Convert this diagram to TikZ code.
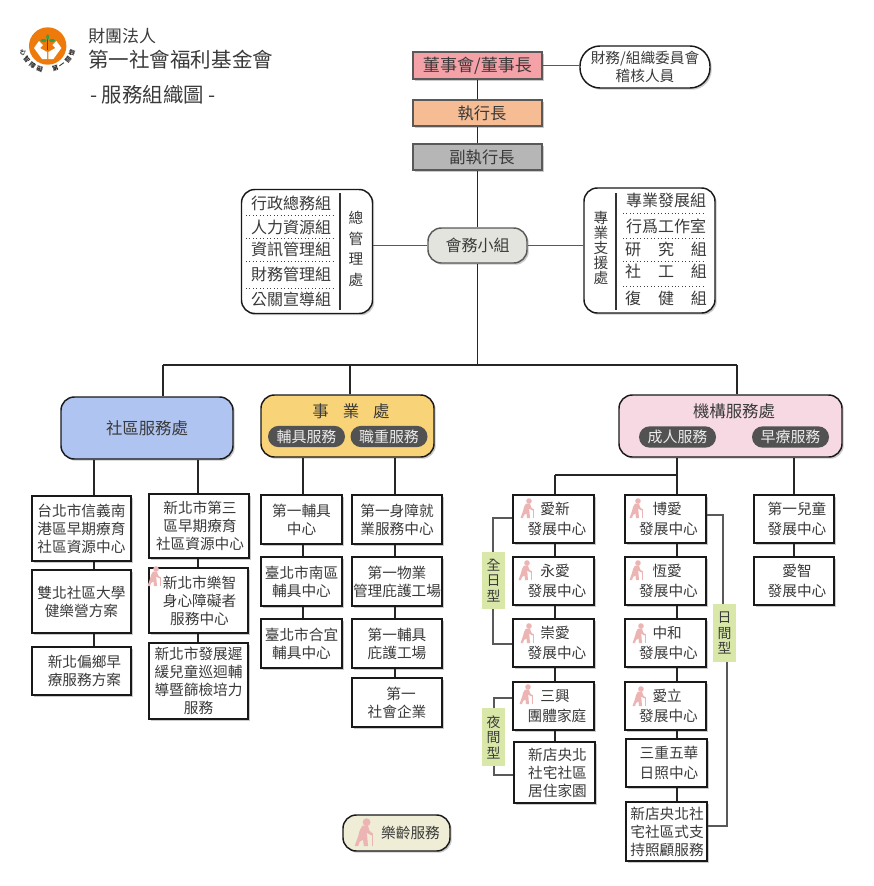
\documentclass[tikz,border=0pt]{standalone}
\usepackage{fontspec}
\setmainfont{Noto Sans CJK TC}
\usepackage{tikz}
\usetikzlibrary{shadows}

\definecolor{inkgray}{HTML}{3A3A3A}
\definecolor{elderpink}{HTML}{EDB4B4}
\definecolor{logoorange}{HTML}{EE7A0C}
\definecolor{logogreen}{HTML}{2FA14A}
\definecolor{tagcolor}{HTML}{D9E8A9}
\definecolor{boardred}{HTML}{F5A1A8}
\definecolor{ceoorange}{HTML}{F6BC93}
\definecolor{deputygray}{HTML}{B7B6B6}
\definecolor{panelgray}{HTML}{E4E4DF}
\definecolor{commblue}{HTML}{AFC4F0}
\definecolor{causeyellow}{HTML}{F9D377}
\definecolor{agencypink}{HTML}{F6D9E2}
\definecolor{legendcream}{HTML}{EFEDD6}

\tikzset{
	softshadow/.style={drop shadow={shadow xshift=1.3pt,shadow yshift=-1.3pt,fill=black!35,opacity=.6}},
	topbox/.style={draw=black!65,line width=1.1pt,softshadow,inner sep=0pt,text=inkgray,font=\fontsize{12.2}{14}\selectfont},
	roundbox/.style={draw=black!90,line width=1.1pt,rounded corners=10pt,fill=white,softshadow,inner sep=0pt,text=inkgray},
	headbox/.style={roundbox,align=center,font=\fontsize{12.3}{14}\selectfont},
	pillbox/.style={fill=black!68,rounded corners=8pt,inner sep=0pt,text=white!92!black,font=\fontsize{11.2}{13}\selectfont},
	unitbox/.style={draw=black!90,line width=1.1pt,fill=white,softshadow,inner sep=0pt},
	unittext/.style={align=center,inner sep=0pt,text=inkgray,font=\fontsize{11}{13.5}\selectfont},
	rowtext/.style={inner sep=0pt,text=inkgray,font=\fontsize{12}{14}\selectfont},
	tagbox/.style={fill=tagcolor,inner sep=0pt,align=center,text=inkgray,font=\fontsize{10.4}{11.6}\selectfont},
	conn/.style={line width=1pt,draw=black!85},
	thinconn/.style={line width=.9pt,draw=black!65},
	dotrule/.style={line width=.6pt,dotted,draw=black!75},
	elder/.pic={
		\fill[elderpink] (9,3) circle (2.8);
		\fill[elderpink] (6,5.5) -- (10,5.5) -- (11,9) -- (13,11) -- (12.5,12.5) -- (9,10.5) -- (9.5,14) -- (10,20) -- (7,20) -- (6.5,15.5) -- (4,17) -- (3,20) -- (0.5,20) -- (3,13) -- (4,9) -- cycle;
		\draw[elderpink,line width=.4pt] (13.3,10.5) -- (13.3,20);
	}
}

\begin{document}
\begin{tikzpicture}[x=0.75pt,y=-0.75pt]
	\useasboundingbox (0,0) rectangle (874,886);

	\fill[logoorange] (47.7,46) circle (18.7);
	\fill[white] (39,41) -- (34,48) -- (42,59) -- (47,59) -- (47,52) -- (40,48) -- (43,45) -- cycle;
	\fill[white] (56.4,41) -- (61.4,48) -- (53.4,59) -- (48.4,59) -- (48.4,52) -- (55.4,48) -- (52.4,45) -- cycle;
	\draw[black!70,line width=.6pt] (47.7,37) -- (47.7,50);
	\fill[logogreen] (43.5,40.5) ellipse (3 and 1.6);
	\fill[logogreen] (52,40.5) ellipse (3 and 1.6);
	\fill[logogreen] (47.7,37) ellipse (1.5 and 2.6);
	\foreach \slot/\glyph in {0/心,1/智,2/障,3/礙,5/第,6/一,7/關,8/懷}
	{
		\pgfmathsetmacro{\ang}{200+\slot*17.5}
		\node[inner sep=0pt,text=black!85,rotate=\ang-270,font=\bfseries\fontsize{4.6}{5}\selectfont] (logo\slot) at ({47.5+26*cos(\ang)},{44-26*sin(\ang)}) {\glyph};
	}

	\node[anchor=west,inner sep=0pt,text=inkgray,font=\fontsize{12.7}{14}\selectfont] (orgkind) at (88,36) {財團法人};
	\node[anchor=west,inner sep=0pt,text=inkgray,font=\fontsize{15.4}{17}\selectfont] (orgname) at (88,60) {第一社會福利基金會};
	\node[anchor=west,inner sep=0pt,text=inkgray,font=\fontsize{15.3}{17}\selectfont] (chartname) at (90,95) {- 服務組織圖 -};

	\node[topbox,fill=boardred,minimum width=96.75pt,minimum height=20.25pt,font=\fontsize{12.8}{14}\selectfont] (board) at (477.5,65.5) {董事會/董事長};
	\node[topbox,fill=ceoorange,minimum width=96.75pt,minimum height=19.5pt] (ceo) at (477.5,113) {\hspace*{6.75pt}執行長};
	\node[topbox,fill=deputygray,minimum width=96.75pt,minimum height=19.5pt] (deputy) at (477.5,157) {\hspace*{6.75pt}副執行長};
	\node[roundbox,rounded corners=15pt,align=center,minimum width=97.5pt,minimum height=31.5pt,font=\fontsize{11}{13.5}\selectfont] (audit) at (645,67) {財務/組織委員會\\稽核人員};
	\node[roundbox,fill=panelgray,draw=black!65,minimum width=74.25pt,minimum height=26.25pt,font=\fontsize{12}{14}\selectfont] (panel) at (477.5,245.5) {會務小組};
	\node[roundbox,minimum width=98.25pt,minimum height=93pt] (admin) at (307,251.5) {};
	\node[roundbox,minimum width=98.25pt,minimum height=93.75pt] (support) at (649.5,250.5) {};

	\draw[conn] (board) -- (ceo);
	\draw[conn] (ceo) -- (deputy);
	\draw[conn] (deputy) -- (panel);
	\draw[thinconn] (board) -- (audit.west |- board);
	\draw[thinconn] (admin.east |- panel) -- (panel);
	\draw[thinconn] (panel) -- (support.west |- panel);

	\draw[line width=.9pt,draw=black!80] (340,193) -- (340,310);
	\draw[line width=.9pt,draw=black!80] (616,193) -- (616,310);
	\foreach \yy in {215,238.5,261.5,288}
		\draw[dotrule] (246,\yy) -- (334,\yy);
	\foreach \yy in {213,238,261,286}
		\draw[dotrule] (623,\yy) -- (706,\yy);
	\foreach \nm/\yy/\txt in {
		adminA/203/行政總務組,
		adminB/227/人力資源組,
		adminC/249/資訊管理組,
		adminD/274/財務管理組,
		adminE/299/公關宣導組}
	{
		\node[rowtext] (\nm) at (291,\yy) {\txt};
	}
	\foreach \nm/\yy/\txt in {
		supportA/200/專業發展組,
		supportB/226/行爲工作室,
		supportC/249/研\hspace{1.05em}究\hspace{1.05em}組,
		supportD/271/社\hspace{1.05em}工\hspace{1.05em}組,
		supportE/298/復\hspace{1.05em}健\hspace{1.05em}組}
	{
		\node[rowtext] (\nm) at (666,\yy) {\txt};
	}
	\node[unittext,font=\fontsize{11}{15.4}\selectfont] (adminname) at (356,249) {總\\管\\理\\處};
	\node[unittext,font=\fontsize{11}{11.4}\selectfont] (supportname) at (601,248) {專\\業\\支\\援\\處};

	\coordinate (busL) at (163,365);
	\coordinate (busC) at (350,365);
	\coordinate (busM) at (477.5,365);
	\coordinate (busR) at (737,365);
	\coordinate (stemP) at (198,0);
	\coordinate (stemQ) at (94,0);
	\coordinate (stemT) at (303,0);
	\coordinate (stemU) at (395,0);
	\coordinate (stemV) at (555,0);
	\coordinate (stemW) at (677,0);
	\coordinate (stemX) at (794,0);
	\coordinate (busA) at (555,475);

	\node[headbox,fill=commblue,minimum width=129pt,minimum height=46.5pt] (community) at (147,428) {社區服務處};
	\node[headbox,fill=causeyellow,minimum width=129.75pt,minimum height=46.5pt] (cause) at (347.5,426) {};
	\node[headbox,fill=agencypink,minimum width=167.25pt,minimum height=46.5pt] (agency) at (730.5,426) {};
	\node[rowtext,font=\fontsize{12.3}{14}\selectfont] (causename) at (351,411) {事\hspace{.85em}業\hspace{.85em}處};
	\node[rowtext,font=\fontsize{12.3}{14}\selectfont] (agencyname) at (734,411) {機構服務處};
	\foreach \nm/\xx/\yy/\txt in {
		toolpill/306.5/436.5/輔具服務,
		jobpill/389/436.5/職重服務,
		adultpill/677.5/437/成人服務,
		earlypill/790.5/437/早療服務}
	{
		\node[pillbox,minimum width=57.75pt,minimum height=16pt] (\nm) at (\xx,\yy) {\txt};
	}

	\draw[conn] (busL) -- (busR);
	\draw[conn] (panel) -- (busM);
	\draw[conn] (busL |- community.north) -- (busL);
	\draw[conn] (busC |- cause.north) -- (busC);
	\draw[conn] (busR |- agency.north) -- (busR);

	\foreach \nm/\xa/\ya/\xb/\yb/\dx/\txt in {
		sinyi/32/496/131/561/0/台北市信義南\\港區早期療育\\社區資源中心,
		campus/32/570/131/633/0/雙北社區大學\\健樂營方案,
		rural/32/647/131/695/3/新北偏鄉早\\療服務方案,
		third/149/494/249/558/1/新北市第三\\區早期療育\\社區資源中心,
		lezhi/149/568/248/633/1/新北市樂智\\身心障礙者\\服務中心,
		itinerant/149/643/248/719/0/新北市發展遲\\緩兒童巡迴輔\\導暨篩檢培力\\服務,
		aidone/261/495/342/544/0/第一輔具\\中心,
		aidsouth/261/557/342/606/0/臺北市南區\\輔具中心,
		aidheyi/261/619/342/668/0/臺北市合宜\\輔具中心,
		jobcenter/352/495/442/544/0/第一身障就\\業服務中心,
		property/352/557/442/606/0/第一物業\\管理庇護工場,
		shelter/352/619/442/668/0/第一輔具\\庇護工場,
		enterprise/352/678/442/727/0/\hspace*{6pt}第一\\社會企業,
		aixin/513/495/594/543/3.5/愛新\hspace*{3pt}\\[1pt]發展中心,
		yongai/513/557/594/605/3.5/永愛\hspace*{3pt}\\[1pt]發展中心,
		chongai/513/619/594/667/3.5/崇愛\hspace*{3pt}\\[1pt]發展中心,
		sanxing/513/682/594/730/3.5/三興\hspace*{3pt}\\[1pt]團體家庭,
		yangbei/514/742/595/803/3/新店央北\\社宅社區\\居住家園,
		boai/625/495/706/543/3/博愛\hspace*{2pt}\\[1pt]發展中心,
		hengai/625/557/706/605/3/恆愛\hspace*{2pt}\\[1pt]發展中心,
		zhonghe/625/619/706/667/3/中和\hspace*{2pt}\\[1pt]發展中心,
		aili/625/682/706/730/3/愛立\hspace*{2pt}\\[1pt]發展中心,
		wuhua/626/739/707/787/2.5/三重五華\\[1pt]日照中心,
		yangcare/626/802/707/861/0.5/新店央北社\\宅社區式支\\持照顧服務,
		childone/754/495/834/543/3/第一兒童\\[1pt]發展中心,
		aizhi/754/557/834/605/3/愛智\\[1pt]發展中心}
	{
		\node[unitbox,minimum width={(\xb-\xa)*0.75pt},minimum height={(\yb-\ya)*0.75pt}] (\nm) at ({(\xa+\xb)/2},{(\ya+\yb)/2}) {};
		\node[unittext] (\nm-t) at ([xshift={\dx*0.75pt}]\nm.center) {\txt};
	}

	\foreach \s/\from/\to in {
		stemQ/community/sinyi, stemQ/sinyi/campus, stemQ/campus/rural,
		stemP/community/third, stemP/third/lezhi, stemP/lezhi/itinerant,
		stemT/cause/aidone, stemT/aidone/aidsouth, stemT/aidsouth/aidheyi,
		stemU/cause/jobcenter, stemU/jobcenter/property, stemU/property/shelter, stemU/shelter/enterprise,
		stemV/aixin/yongai, stemV/yongai/chongai, stemV/chongai/sanxing, stemV/sanxing/yangbei,
		stemW/agency/boai, stemW/boai/hengai, stemW/hengai/zhonghe, stemW/zhonghe/aili, stemW/aili/wuhua, stemW/wuhua/yangcare,
		stemX/agency/childone, stemX/childone/aizhi}
	{
		\draw[conn] (\s |- \from.south) -- (\s |- \to.north);
	}
	\draw[conn] (busA) -- (stemW |- busA);
	\draw[conn] (busA) -- (stemV |- aixin.north);

	\node[tagbox,minimum width=17.25pt,minimum height=42.75pt] (fullday) at (493.5,580.5) {全\\日\\型};
	\node[tagbox,minimum width=17.25pt,minimum height=43.5pt] (nightly) at (493.5,737) {夜\\間\\型};
	\node[tagbox,minimum width=17.25pt,minimum height=43.5pt] (daytime) at (724.5,633) {日\\間\\型};
	\coordinate (fullA) at (493,518);
	\coordinate (fullB) at (493,644);
	\coordinate (nightA) at (494,698);
	\coordinate (nightB) at (494,775);
	\coordinate (dayA) at (723,515);
	\coordinate (dayB) at (727,826);
	\draw[thinconn] (fullA |- fullday.north) -- (fullA) -- (fullA -| aixin.west);
	\draw[thinconn] (fullB |- fullday.south) -- (fullB) -- (fullB -| chongai.west);
	\draw[thinconn] (nightA |- nightly.north) -- (nightA) -- (nightA -| sanxing.west);
	\draw[thinconn] (nightB |- nightly.south) -- (nightB) -- (nightB -| yangbei.west);
	\draw[thinconn] (dayA -| boai.east) -- (dayA) -- (dayA |- daytime.north);
	\draw[thinconn] (dayB |- daytime.south) -- (dayB) -- (dayB -| yangcare.east);

	\node[roundbox,fill=legendcream,minimum width=80.25pt,minimum height=27pt] (legend) at (396.5,833) {};
	\node[unittext] (legendname) at (410.5,833) {樂齡服務};
	\foreach \xx/\yy in {520/498,518/560,520/623,519/684,629/498,629/560,632/623,632/686,147/566}
		\pic at (\xx,\yy) {elder};
	\pic[scale=1.4] at (354,818) {elder};
\end{tikzpicture}
\end{document}
